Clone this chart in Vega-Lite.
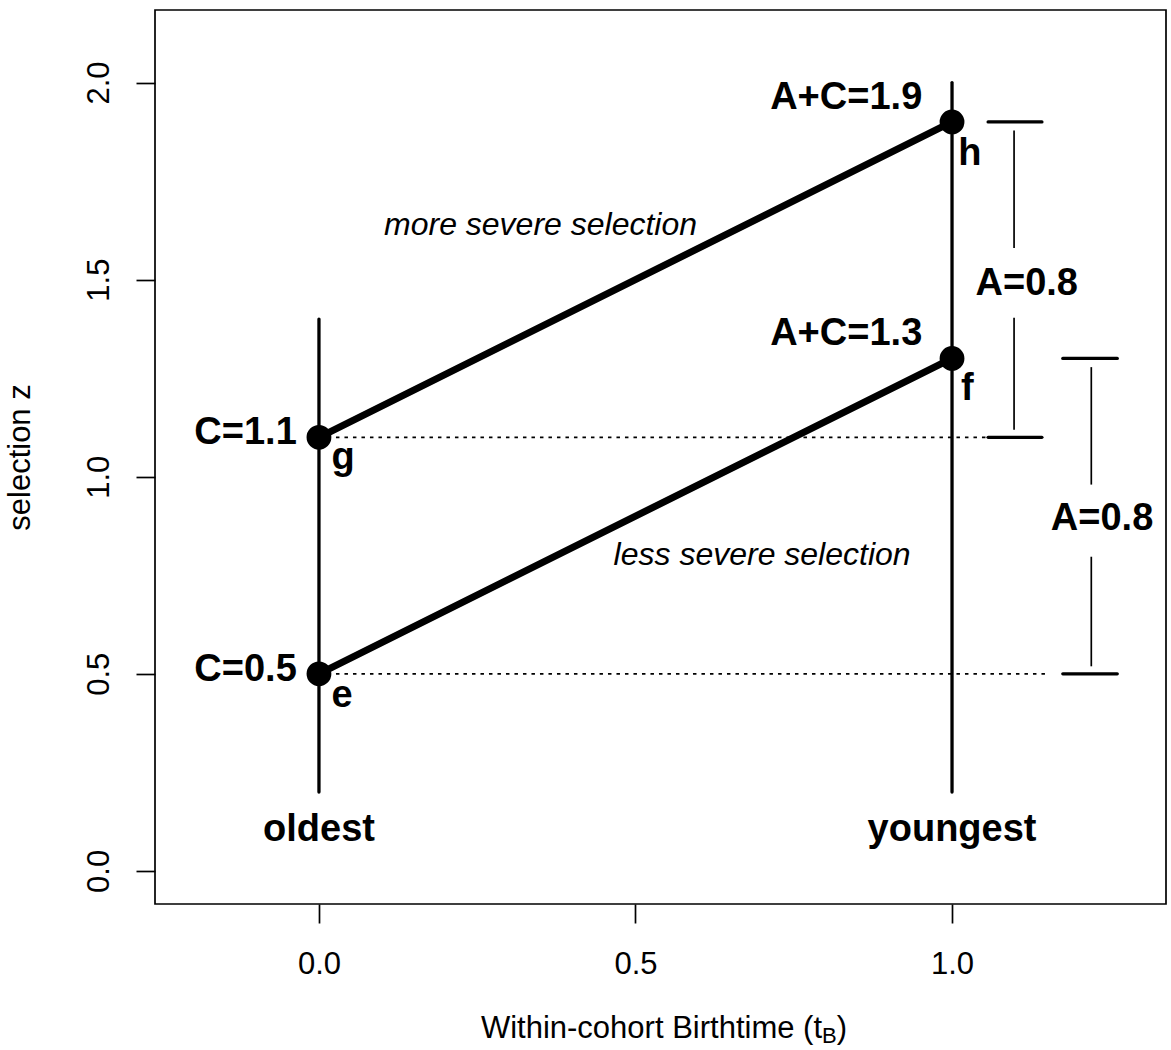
{
  "$schema": "https://vega.github.io/schema/vega-lite/v6.json",
  "width": 1011,
  "height": 894,
  "autosize": {"type": "none"},
  "padding": {"left": 155, "top": 10, "right": 5, "bottom": 146},
  "background": "white",
  "config": {
    "font": "Liberation Sans",
    "view": {"stroke": "black", "strokeWidth": 1.7},
    "axis": {
      "domain": false,
      "grid": false,
      "tickColor": "black",
      "tickWidth": 1.7,
      "tickSize": 19,
      "labelColor": "black",
      "labelFont": "Liberation Sans",
      "labelFontSize": 31,
      "labelFontWeight": "normal",
      "titleColor": "black",
      "titleFont": "Liberation Sans",
      "titleFontSize": 31,
      "titleFontWeight": "normal"
    }
  },
  "datasets": {
    "guides": [
      {"x": 0, "y": 0.2, "x2": 0, "y2": 1.4},
      {"x": 1, "y": 0.2, "x2": 1, "y2": 2.0}
    ],
    "slopes": [
      {"x": 0, "y": 1.1, "x2": 1, "y2": 1.9},
      {"x": 0, "y": 0.5, "x2": 1, "y2": 1.3}
    ],
    "dotted": [
      {"x": 0, "y": 1.1, "x2": 1.055, "y2": 1.1},
      {"x": 0, "y": 0.5, "x2": 1.147, "y2": 0.5}
    ],
    "caps": [
      {"x": 1.057, "y": 1.9, "x2": 1.142, "y2": 1.9},
      {"x": 1.057, "y": 1.1, "x2": 1.142, "y2": 1.1},
      {"x": 1.175, "y": 1.3, "x2": 1.261, "y2": 1.3},
      {"x": 1.175, "y": 0.5, "x2": 1.261, "y2": 0.5}
    ],
    "stems": [
      {"x": 1.098, "y": 1.878, "x2": 1.098, "y2": 1.58},
      {"x": 1.098, "y": 1.403, "x2": 1.098, "y2": 1.119},
      {"x": 1.22, "y": 1.278, "x2": 1.22, "y2": 0.98},
      {"x": 1.22, "y": 0.797, "x2": 1.22, "y2": 0.519}
    ],
    "pts": [
      {"x": 0, "y": 0.5},
      {"x": 0, "y": 1.1},
      {"x": 1, "y": 1.3},
      {"x": 1, "y": 1.9}
    ],
    "rightLabels": [
      {"x": -0.035, "y": 1.084, "text": "C=1.1"},
      {"x": -0.035, "y": 0.481, "text": "C=0.5"},
      {"x": 0.953, "y": 1.934, "text": "A+C=1.9"},
      {"x": 0.953, "y": 1.334, "text": "A+C=1.3"}
    ],
    "leftLabels": [
      {"x": 0.02, "y": 1.02, "text": "g"},
      {"x": 0.02, "y": 0.415, "text": "e"},
      {"x": 1.01, "y": 1.792, "text": "h"},
      {"x": 1.014, "y": 1.195, "text": "f"}
    ],
    "centerLabels": [
      {"x": 0, "y": 0.075, "text": "oldest"},
      {"x": 1, "y": 0.075, "text": "youngest"},
      {"x": 1.118, "y": 1.461, "text": "A=0.8"},
      {"x": 1.237, "y": 0.866, "text": "A=0.8"}
    ],
    "italics": [
      {"x": 0.35, "y": 1.613, "text": "more severe selection"},
      {"x": 0.7, "y": 0.777, "text": "less severe selection"}
    ],
    "xtitleMain": [
      {"x": 0.7946, "y": -0.425, "text": "Within-cohort Birthtime (t"}
    ],
    "xtitleSub": [
      {"x": 0.7946, "y": -0.436, "text": "B"}
    ],
    "xtitleEnd": [
      {"x": 0.818, "y": -0.425, "text": ")"}
    ]
  },
  "encoding": {
    "x": {
      "field": "x",
      "type": "quantitative",
      "scale": {"domain": [-0.259, 1.338], "nice": false, "zero": false},
      "axis": {
        "values": [0, 0.5, 1],
        "format": ".1f",
        "title": null,
        "labelBaseline": "alphabetic",
        "labelPadding": 50
      }
    },
    "y": {
      "field": "y",
      "type": "quantitative",
      "scale": {"domain": [-0.084, 2.184], "nice": false, "zero": false},
      "axis": {
        "values": [0, 0.5, 1, 1.5, 2],
        "format": ".1f",
        "title": "selection z",
        "labelAngle": -90,
        "labelAlign": "center",
        "labelBaseline": "alphabetic",
        "labelPadding": 28,
        "titleAngle": -90,
        "titleBaseline": "alphabetic",
        "titlePadding": 54
      }
    }
  },
  "layer": [
    {
      "data": {"name": "dotted"},
      "mark": {"type": "rule", "color": "black", "strokeWidth": 1.7, "strokeDash": [3.5, 5]},
      "encoding": {"x2": {"field": "x2"}, "y2": {"field": "y2"}}
    },
    {
      "data": {"name": "guides"},
      "mark": {"type": "rule", "color": "black", "strokeWidth": 3.3, "strokeCap": "round"},
      "encoding": {"x2": {"field": "x2"}, "y2": {"field": "y2"}}
    },
    {
      "data": {"name": "slopes"},
      "mark": {"type": "rule", "color": "black", "strokeWidth": 7, "strokeCap": "round"},
      "encoding": {"x2": {"field": "x2"}, "y2": {"field": "y2"}}
    },
    {
      "data": {"name": "caps"},
      "mark": {"type": "rule", "color": "black", "strokeWidth": 3.3, "strokeCap": "round"},
      "encoding": {"x2": {"field": "x2"}, "y2": {"field": "y2"}}
    },
    {
      "data": {"name": "stems"},
      "mark": {"type": "rule", "color": "black", "strokeWidth": 1.7},
      "encoding": {"x2": {"field": "x2"}, "y2": {"field": "y2"}}
    },
    {
      "data": {"name": "pts"},
      "mark": {"type": "point", "shape": "circle", "filled": true, "color": "black", "opacity": 1, "size": 616}
    },
    {
      "data": {"name": "rightLabels"},
      "mark": {"type": "text", "align": "right", "baseline": "alphabetic", "fontSize": 38, "fontWeight": "bold", "color": "black"},
      "encoding": {"text": {"field": "text"}}
    },
    {
      "data": {"name": "leftLabels"},
      "mark": {"type": "text", "align": "left", "baseline": "alphabetic", "fontSize": 38, "fontWeight": "bold", "color": "black"},
      "encoding": {"text": {"field": "text"}}
    },
    {
      "data": {"name": "centerLabels"},
      "mark": {"type": "text", "align": "center", "baseline": "alphabetic", "fontSize": 38, "fontWeight": "bold", "color": "black"},
      "encoding": {"text": {"field": "text"}}
    },
    {
      "data": {"name": "italics"},
      "mark": {"type": "text", "align": "center", "baseline": "alphabetic", "fontSize": 32, "fontStyle": "italic", "color": "black"},
      "encoding": {"text": {"field": "text"}}
    },
    {
      "data": {"name": "xtitleMain"},
      "mark": {"type": "text", "align": "right", "baseline": "alphabetic", "fontSize": 31, "color": "black"},
      "encoding": {"text": {"field": "text"}}
    },
    {
      "data": {"name": "xtitleSub"},
      "mark": {"type": "text", "align": "left", "baseline": "alphabetic", "fontSize": 22, "color": "black"},
      "encoding": {"text": {"field": "text"}}
    },
    {
      "data": {"name": "xtitleEnd"},
      "mark": {"type": "text", "align": "left", "baseline": "alphabetic", "fontSize": 31, "color": "black"},
      "encoding": {"text": {"field": "text"}}
    }
  ]
}
